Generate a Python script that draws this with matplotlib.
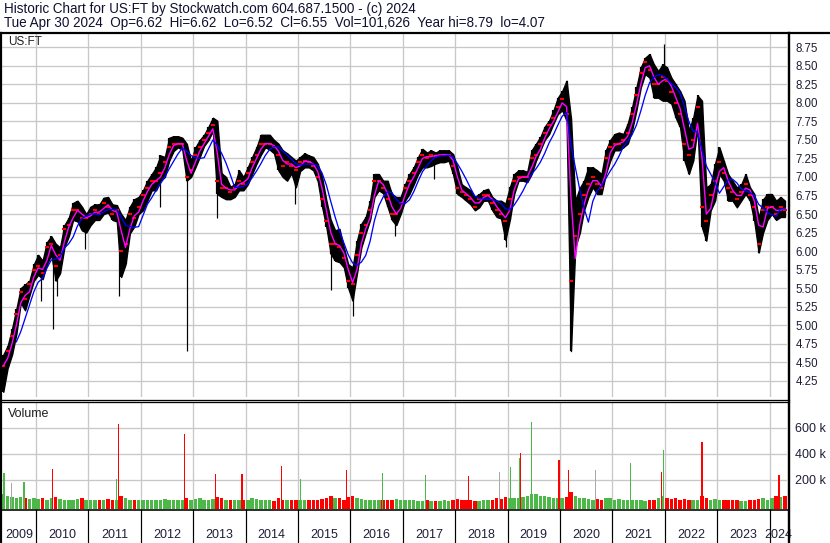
import numpy as np
import pandas as pd
import matplotlib.pyplot as plt

plt.rcParams['font.family'] = ['Liberation Sans', 'DejaVu Sans']

# monthly bars, May 2009 .. Apr 2024
months = pd.period_range('2009-05', '2024-04', freq='M')

hi = [4.60, 4.72, 4.95, 5.22, 5.50, 5.55, 5.60, 5.82,
      5.95, 5.87, 6.12, 6.20, 6.10, 6.05, 6.35, 6.45, 6.65, 6.68, 6.60, 6.50,
      6.60, 6.63, 6.63, 6.72, 6.73, 6.63, 6.62, 6.50, 6.42, 6.60, 6.70, 6.73,
      6.82, 6.95, 7.04, 7.13, 7.29, 7.27, 7.53, 7.55, 7.55, 7.53, 7.45, 7.22,
      7.40, 7.50, 7.57, 7.68, 7.80, 7.76, 7.05, 7.00, 6.87, 6.90, 7.09, 7.00,
      7.13, 7.27, 7.40, 7.57, 7.57, 7.57, 7.50, 7.45, 7.36, 7.32, 7.27, 7.22,
      7.27, 7.32, 7.29, 7.27, 7.18, 7.00, 6.68, 6.42, 6.28, 6.30, 6.05, 5.82,
      5.78, 6.14, 6.37, 6.46, 6.68, 7.04, 7.04, 6.95, 6.95, 6.77, 6.73, 6.73,
      6.90, 7.04, 7.13, 7.27, 7.38, 7.33, 7.36, 7.33, 7.36, 7.36, 7.36, 7.31,
      7.13, 6.90, 6.86, 6.82, 6.73, 6.77, 6.82, 6.84, 6.73, 6.68, 6.68, 6.64,
      6.86, 7.04, 7.09, 7.09, 7.07, 7.36, 7.45, 7.54, 7.68, 7.76, 7.90, 8.07,
      8.16, 8.30, 7.80, 6.68, 6.85, 6.95, 7.13, 7.13, 7.09, 7.04, 7.36, 7.50,
      7.58, 7.60, 7.58, 7.72, 7.94, 8.21, 8.48, 8.61, 8.66, 8.52, 8.43, 8.52,
      8.48, 8.34, 8.25, 8.16, 8.03, 7.63, 7.80, 8.10, 8.03, 6.86, 6.90, 7.18,
      7.40, 7.22, 7.04, 6.95, 6.86, 6.90, 7.04, 6.86, 6.77, 6.45, 6.70, 6.77,
      6.77, 6.68, 6.73, 6.68]
lo = [4.10, 4.42, 4.60, 4.88, 5.30, 5.20, 5.40, 5.60,
      5.68, 5.62, 5.82, 5.95, 5.60, 5.70, 6.05, 6.20, 6.42, 6.40, 6.28, 6.25,
      6.35, 6.42, 6.42, 6.50, 6.52, 6.42, 6.40, 5.65, 5.82, 6.24, 6.33, 6.50,
      6.55, 6.68, 6.82, 6.82, 6.95, 7.00, 7.22, 7.35, 7.40, 7.37, 6.95, 7.00,
      7.13, 7.27, 7.42, 7.50, 7.62, 6.77, 6.73, 6.70, 6.70, 6.73, 6.82, 6.82,
      6.90, 7.04, 7.18, 7.30, 7.40, 7.37, 7.32, 7.09, 7.00, 6.95, 7.05, 6.86,
      7.08, 7.13, 7.13, 7.09, 6.95, 6.60, 6.32, 5.96, 5.87, 5.85, 5.78, 5.50,
      5.33, 5.70, 6.05, 6.24, 6.42, 6.73, 6.82, 6.78, 6.60, 6.42, 6.35, 6.50,
      6.68, 6.77, 6.90, 7.04, 7.13, 7.13, 7.15, 7.18, 7.20, 7.20, 7.22, 7.04,
      6.77, 6.73, 6.68, 6.63, 6.55, 6.59, 6.68, 6.68, 6.55, 6.46, 6.44, 6.15,
      6.42, 6.77, 6.95, 6.95, 6.93, 7.04, 7.22, 7.36, 7.50, 7.58, 7.72, 7.85,
      7.90, 7.76, 4.65, 6.05, 6.24, 6.55, 6.73, 6.86, 6.77, 6.77, 7.04, 7.22,
      7.36, 7.36, 7.40, 7.45, 7.63, 7.90, 8.21, 8.39, 8.34, 8.07, 8.07, 8.03,
      8.03, 7.99, 7.80, 7.67, 7.22, 7.04, 7.22, 7.67, 6.32, 6.14, 6.55, 6.68,
      7.04, 6.95, 6.68, 6.68, 6.59, 6.68, 6.77, 6.68, 6.40, 5.98, 6.25, 6.42,
      6.50, 6.42, 6.46, 6.46]
cl = [4.45, 4.65, 4.85, 5.15, 5.45, 5.35, 5.55, 5.75,
      5.80, 5.70, 6.05, 6.10, 5.80, 5.95, 6.30, 6.35, 6.55, 6.55, 6.45, 6.45,
      6.50, 6.55, 6.50, 6.65, 6.60, 6.50, 6.55, 6.00, 6.10, 6.50, 6.45, 6.60,
      6.75, 6.85, 6.95, 6.95, 7.05, 7.20, 7.40, 7.45, 7.45, 7.45, 7.00, 7.10,
      7.30, 7.40, 7.50, 7.60, 7.70, 6.95, 6.85, 6.85, 6.80, 6.85, 6.95, 6.90,
      7.05, 7.20, 7.30, 7.45, 7.45, 7.45, 7.40, 7.30, 7.15, 7.20, 7.15, 7.10,
      7.20, 7.22, 7.20, 7.15, 7.00, 6.70, 6.40, 6.10, 6.10, 6.05, 5.90, 5.60,
      5.55, 5.95, 6.25, 6.35, 6.55, 6.95, 6.95, 6.85, 6.70, 6.50, 6.50, 6.65,
      6.85, 6.95, 7.05, 7.20, 7.30, 7.25, 7.30, 7.28, 7.30, 7.30, 7.30, 7.15,
      6.85, 6.80, 6.75, 6.70, 6.60, 6.70, 6.75, 6.75, 6.65, 6.55, 6.50, 6.40,
      6.70, 6.95, 7.00, 7.00, 7.00, 7.25, 7.30, 7.45, 7.60, 7.70, 7.80, 7.95,
      8.05, 7.85, 5.60, 6.20, 6.50, 6.75, 6.90, 7.00, 6.90, 6.85, 7.25, 7.40,
      7.45, 7.45, 7.50, 7.60, 7.85, 8.10, 8.40, 8.55, 8.45, 8.25, 8.25, 8.35,
      8.30, 8.15, 8.00, 7.85, 7.45, 7.30, 7.50, 7.95, 6.60, 6.40, 6.75, 6.95,
      7.20, 7.05, 6.85, 6.80, 6.70, 6.80, 6.90, 6.75, 6.60, 6.10, 6.55, 6.60,
      6.60, 6.50, 6.60, 6.55]

# single-day wicks outside the monthly band
spike_t = [2010.10, 2010.33, 2010.40, 2010.94, 2011.58, 2012.37, 2012.88,
           2013.45, 2014.94, 2015.63, 2016.04, 2016.85, 2017.60, 2018.97]
spike_p = [5.33, 4.95, 5.40, 6.03, 5.40, 6.60, 4.65,
           6.45, 6.63, 5.48, 5.13, 6.20, 6.97, 6.05]
top_spike_t = [2021.98]
top_spike_p = [8.79]

# volume, thousands: typical monthly level
vol_typ = [90, 80, 70, 65, 70, 60, 55, 65,
           55, 60, 50, 65, 70, 55, 50, 45, 50, 55, 60, 50,
           50, 45, 45, 50, 55, 45, 50, 80, 60, 50, 45, 45,
           45, 50, 50, 45, 50, 55, 50, 45, 45, 50, 65, 50,
           55, 60, 50, 50, 55, 70, 60, 50, 45, 45, 50, 45,
           50, 65, 55, 50, 45, 45, 40, 60, 50, 45, 45, 50,
           45, 50, 50, 45, 50, 55, 60, 75, 65, 60, 50, 70,
           75, 65, 55, 50, 50, 50, 45, 45, 50, 50, 55, 50,
           45, 50, 50, 40, 40, 45, 40, 40, 40, 45, 40, 50,
           55, 50, 45, 45, 40, 40, 45, 50, 50, 60, 55, 70,
           65, 60, 65, 70, 80, 95, 90, 80, 75, 70, 65, 60,
           65, 70, 110, 80, 65, 60, 55, 50, 55, 50, 60, 60,
           50, 55, 50, 50, 45, 50, 45, 40, 45, 50, 60, 80,
           60, 55, 60, 50, 55, 50, 45, 45, 75, 60, 50, 55,
           50, 45, 50, 45, 45, 40, 40, 45, 45, 55, 60, 50,
           65, 75, 70, 75]

# tallest single-day volume bars
vspike_t = [2009.39, 2009.54, 2009.77, 2010.32, 2011.54, 2011.57, 2012.84, 2013.43,
            2013.93, 2014.69, 2015.04, 2015.93, 2016.61, 2017.44, 2018.26, 2018.85,
            2019.06, 2019.22, 2019.25, 2019.45, 2019.98, 2020.17, 2020.67, 2021.35,
            2021.94, 2021.98, 2022.71, 2024.18]
vspike_v = [250, 180, 182, 287, 210, 632, 557, 245,
            245, 307, 207, 275, 257, 237, 232, 265,
            300, 370, 407, 645, 357, 275, 275, 327,
            260, 427, 495, 237]
vspike_c = ['g', 'gray', 'g', 'r', 'g', 'r', 'r', 'r',
            'r', 'r', 'g', 'r', 'g', 'g', 'r', 'gray',
            'g', 'g', 'r', 'g', 'r', 'r', 'gray', 'g',
            'r', 'g', 'r', 'r']

year_labels = list(range(2009, 2025))

W, H = 830, 543
XMIN, XMAX = 2009.351, 2024.332
RED, GREEN, GRAY, GRID = '#ff0000', '#4cb848', '#a8a8a8', '#c8c8c8'
LBL = '#1e1e38'
px = 0.72

t = np.array(months.year + (months.month - 0.5) / 12, dtype=float)
hi, lo, cl = np.array(hi), np.array(lo), np.array(cl)


def box(x0, y0, x1, y1):
    return [x0 / W, 1 - y1 / H, (x1 - x0) / W, (y1 - y0) / H]


fig = plt.figure(figsize=(W / 100, H / 100), dpi=100)

# ---- price panel
ax = fig.add_axes(box(2, 34, 787, 397))
ax.set_xlim(XMIN, XMAX)
ax.set_ylim(4.03, 8.93)
ax.set_xticks(range(2010, 2025))
ax.set_yticks(np.arange(4.25, 8.76, 0.25))
ax.set_yticklabels(['%.2f' % v for v in np.arange(4.25, 8.76, 0.25)])
ax.grid(color=GRID, lw=1.3 * px)
ax.set_axisbelow(True)
ax.yaxis.tick_right()
ax.tick_params(length=0, labelbottom=False, labelsize=8.3, pad=6, labelcolor=LBL)
for s in ax.spines.values():
    s.set_visible(False)

# daily bars merge into a black band
ax.fill_between(t, lo, hi, color='black', lw=1.0, zorder=2)
ax.vlines(t, lo, hi, color='black', lw=2.2 * px, zorder=2)
ax.vlines(spike_t, spike_p, np.interp(spike_t, t, cl), color='black', lw=1.2 * px, zorder=2)
ax.vlines(top_spike_t, np.interp(top_spike_t, t, cl), top_spike_p, color='black', lw=1.2 * px, zorder=2)
ax.scatter(t, cl, marker='_', s=5, color=RED, lw=1.5, zorder=3)

ma_short = pd.Series(cl).rolling(2, min_periods=1).mean()
ma_long = pd.Series(cl).rolling(5, min_periods=4).mean()
ax.plot(t, ma_short, color='#ff00ff', lw=1.4 * px, zorder=4)
ax.plot(t, ma_long, color='#0000ff', lw=1.3 * px, zorder=4)

# ---- volume panel
vfloor = -23000
vx = fig.add_axes(box(2, 403, 787, 509))
vx.set_xlim(XMIN, XMAX)
vx.set_ylim(vfloor, 792000)
vx.set_xticks(range(2010, 2025))
vx.set_yticks([200000, 400000, 600000])
vx.set_yticklabels(['200 k', '400 k', '600 k'])
vx.grid(color=GRID, lw=1.3 * px)
vx.set_axisbelow(True)
vx.yaxis.tick_right()
vx.tick_params(length=0, labelbottom=False, labelsize=9, pad=6, labelcolor=LBL)
for s in vx.spines.values():
    s.set_visible(False)

vol = np.array(vol_typ) * 1000
up = np.r_[True, cl[1:] >= cl[:-1]]
vcol = [GREEN if u else RED for u in up]
vx.bar(t, vol - vfloor, bottom=vfloor, width=0.8 / 12, color=vcol, zorder=2)
cmap = {'r': RED, 'g': GREEN, 'gray': GRAY}
vx.bar(vspike_t, np.array(vspike_v) * 1000 - vfloor, bottom=vfloor, width=0.022,
       color=[cmap[c] for c in vspike_c], zorder=3)
vx.text(0.008, 0.9, 'Volume', transform=vx.transAxes, fontsize=9,
        va='center', ha='left', color='#202020')

# ---- date strip
dx = fig.add_axes(box(2, 509, 787, 543))
dx.set_xlim(XMIN, XMAX)
dx.set_ylim(0, 1)
dx.axis('off')
dx.vlines(range(2010, 2025), 0, 1, color='black', lw=1.2 * px)
for y in year_labels:
    a = max(y, XMIN)
    b = min(y + 1, XMAX)
    dx.text((a + b) / 2, 0.24, str(y), ha='center', va='center', fontsize=9, color=LBL)

# ---- header + frame
fig.text(4 / W, 1 - 8.5 / H, 'Historic Chart for US:FT by Stockwatch.com 604.687.1500 - (c) 2024',
         fontsize=9.75, va='center', ha='left', color='#101030')
fig.text(4 / W, 1 - 23.5 / H,
         'Tue Apr 30 2024  Op=6.62  Hi=6.62  Lo=6.52  Cl=6.55  Vol=101,626  Year hi=8.79  lo=4.07',
         fontsize=9.75, va='center', ha='left', color='#101030')
fig.text(8 / W, 1 - 42 / H, 'US:FT', fontsize=8.5, va='center', ha='left', color='#202020')

ov = fig.add_axes([0, 0, 1, 1])
ov.set_xlim(0, W)
ov.set_ylim(H, 0)
ov.axis('off')
ov.patch.set_alpha(0)
ov.plot([0, W], [33, 33], color='black', lw=2.2 * px)
ov.plot([1, 1], [33, H], color='black', lw=2.2 * px)
ov.plot([789, 789], [33, H], color='black', lw=2.4 * px)
ov.plot([0, 789], [399.5, 399.5], color='black', lw=1.3 * px)
ov.plot([0, 789], [402, 402], color='black', lw=1.3 * px)
ov.plot([0, 789], [509.5, 509.5], color='black', lw=1.6 * px)

fig.savefig('out.png', dpi=100)
